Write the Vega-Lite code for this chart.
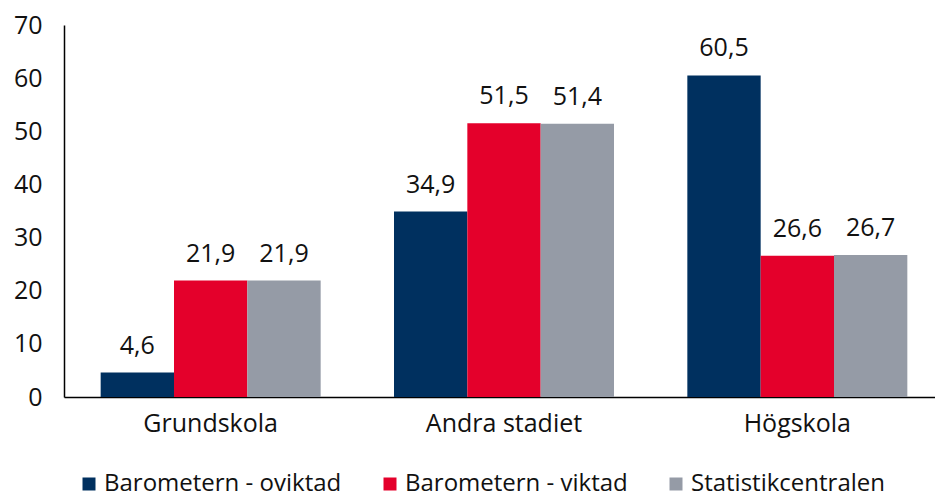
{
  "$schema": "https://vega.github.io/schema/vega-lite/v6.json",
  "width": 880,
  "height": 372,
  "autosize": {"type": "none"},
  "padding": {"left": 64, "top": 25, "right": 0, "bottom": 101},
  "background": "white",
  "config": {
    "locale": {"number": {"decimal": ",", "thousands": " ", "grouping": [3], "currency": ["", " kr"]}},
    "view": {"stroke": null},
    "font": "Open Sans"
  },
  "data": {
    "values": [
      {"niva": "Grundskola", "serie": "Barometern - oviktad", "v": 4.6},
      {"niva": "Grundskola", "serie": "Barometern - viktad", "v": 21.9},
      {"niva": "Grundskola", "serie": "Statistikcentralen", "v": 21.9},
      {"niva": "Andra stadiet", "serie": "Barometern - oviktad", "v": 34.9},
      {"niva": "Andra stadiet", "serie": "Barometern - viktad", "v": 51.5},
      {"niva": "Andra stadiet", "serie": "Statistikcentralen", "v": 51.4},
      {"niva": "Högskola", "serie": "Barometern - oviktad", "v": 60.5},
      {"niva": "Högskola", "serie": "Barometern - viktad", "v": 26.6},
      {"niva": "Högskola", "serie": "Statistikcentralen", "v": 26.7}
    ]
  },
  "encoding": {
    "x": {
      "field": "niva", "type": "nominal", "sort": ["Grundskola", "Andra stadiet", "Högskola"],
      "scale": {"paddingInner": 0.25, "paddingOuter": 0.125},
      "axis": {"title": null, "labelAngle": 0, "ticks": false, "domainColor": "#000000", "domainWidth": 1.5, "labelFontSize": 25, "labelColor": "#111111", "labelPadding": 14, "labelFont": "Open Sans"}
    },
    "xOffset": {"field": "serie", "type": "nominal", "scale": {"paddingInner": 0, "paddingOuter": 0}},
    "y": {
      "field": "v", "type": "quantitative",
      "scale": {"domain": [0, 70], "nice": false},
      "axis": {"title": null, "values": [0, 10, 20, 30, 40, 50, 60, 70], "grid": false, "ticks": false, "domainColor": "#000000", "domainWidth": 1.5, "labelFontSize": 25, "labelColor": "#111111", "labelPadding": 22, "labelFont": "Open Sans"}
    }
  },
  "layer": [
    {
      "mark": {"type": "bar"},
      "encoding": {
        "color": {
          "field": "serie", "type": "nominal",
          "scale": {"domain": ["Barometern - oviktad", "Barometern - viktad", "Statistikcentralen"], "range": ["#00305f", "#e4002b", "#959ba6"]},
          "legend": {
            "title": null, "orient": "none", "direction": "horizontal", "legendX": 13, "legendY": 447, "padding": 0,
            "symbolType": "square", "symbolSize": 169, "symbolStrokeWidth": 0, "labelFontSize": 24, "labelFont": "Open Sans", "labelColor": "#111111",
            "columnPadding": 36, "labelOffset": 3, "labelLimit": 400
          }
        }
      }
    },
    {
      "mark": {"type": "text", "baseline": "bottom", "dy": -14, "fontSize": 25, "color": "#111111", "font": "Open Sans"},
      "encoding": {
        "text": {"field": "v", "type": "quantitative", "format": ".1f"}
      }
    }
  ]
}
